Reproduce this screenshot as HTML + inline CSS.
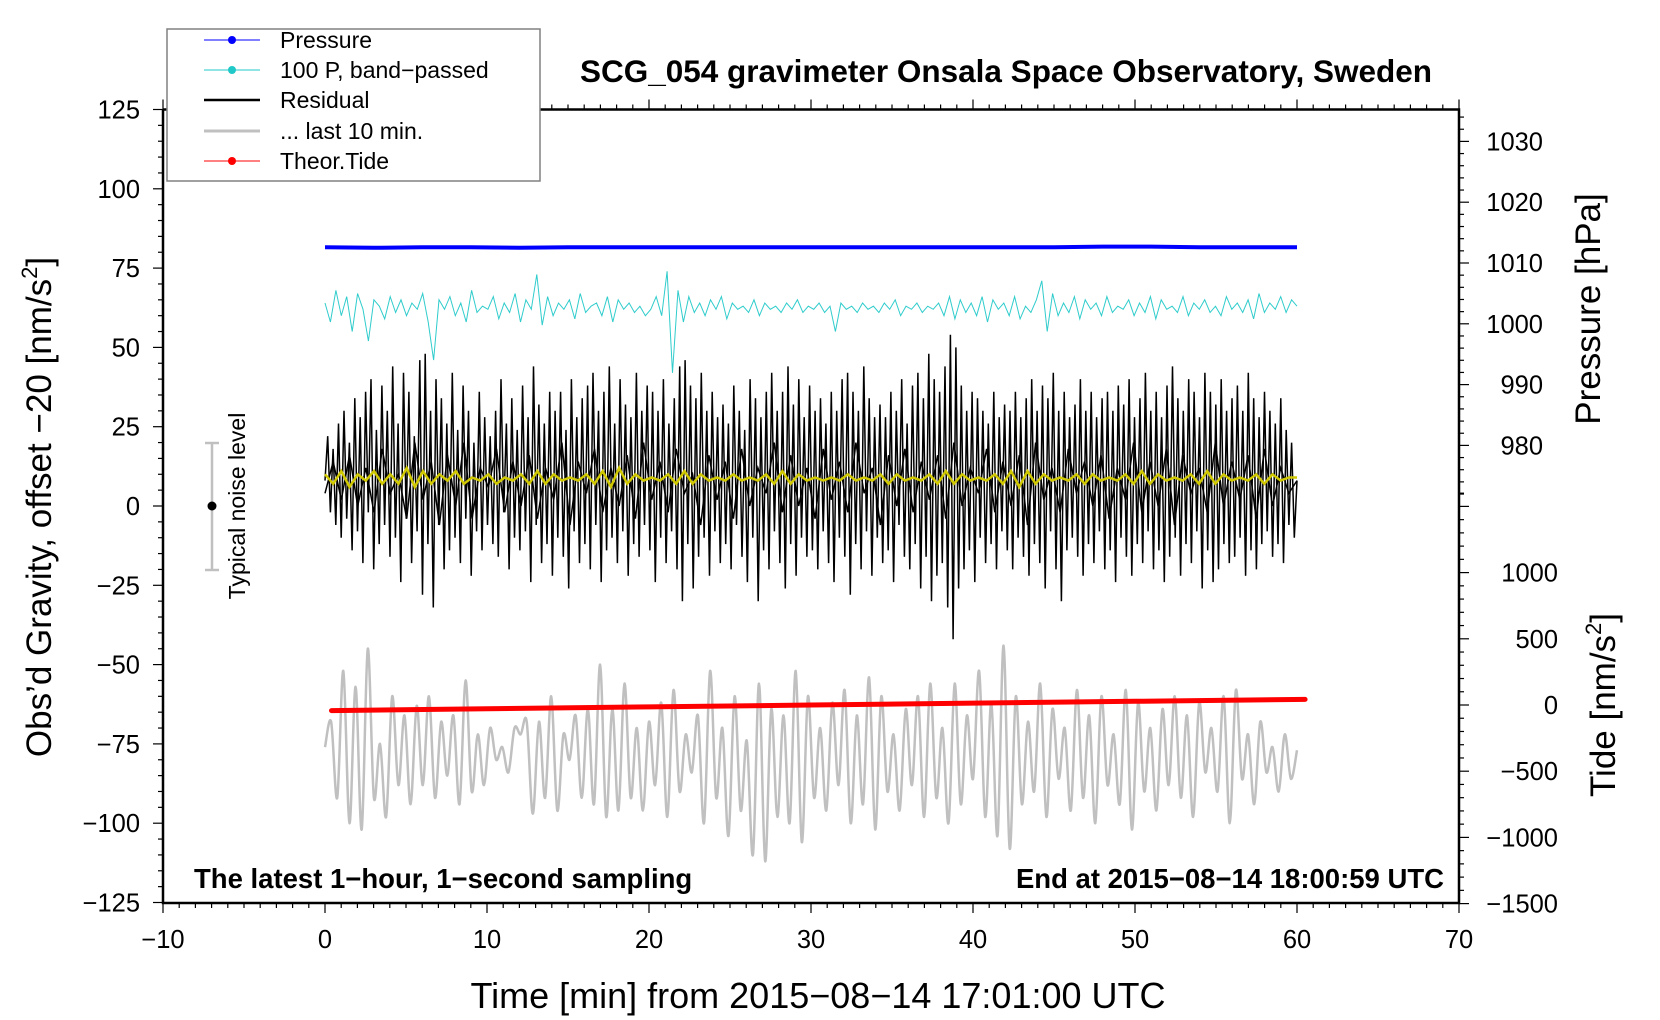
<!DOCTYPE html>
<html><head><meta charset="utf-8">
<style>
html,body{margin:0;padding:0;background:#fff;}
svg{display:block;font-family:"Liberation Sans",Arial,sans-serif;}
</style></head>
<body>
<svg id="chart" width="1660" height="1020" viewBox="0 0 1660 1020" xmlns="http://www.w3.org/2000/svg">
<rect x="0" y="0" width="1660" height="1020" fill="#fff"/>
<g id="series"></g>
<g id="axes"></g>
<text x="1006" y="82" font-size="31.5" font-weight="bold" text-anchor="middle">SCG_054 gravimeter Onsala Space Observatory, Sweden</text>
<text x="818" y="1008" font-size="36" text-anchor="middle">Time [min] from 2015−08−14 17:01:00 UTC</text>
<text transform="translate(51,507) rotate(-90)" font-size="35" text-anchor="middle">Obs’d Gravity, offset −20 [nm/s<tspan font-size="22" dy="-14">2</tspan><tspan dy="14">]</tspan></text>
<text transform="translate(1600,309) rotate(-90)" font-size="35" text-anchor="middle">Pressure [hPa]</text>
<text transform="translate(1615,705) rotate(-90)" font-size="35" text-anchor="middle">Tide [nm/s<tspan font-size="22" dy="-14">2</tspan><tspan dy="14">]</tspan></text>
<text x="194" y="888" font-size="27.5" font-weight="bold">The latest 1−hour, 1−second sampling</text>
<text x="1444" y="888" font-size="27.5" font-weight="bold" text-anchor="end">End at 2015−08−14 18:00:59 UTC</text>
<g>
<line x1="212" y1="443" x2="212" y2="570" stroke="#c0c0c0" stroke-width="2.5"/>
<line x1="205" y1="443" x2="219" y2="443" stroke="#c0c0c0" stroke-width="2.5"/>
<line x1="205" y1="570" x2="219" y2="570" stroke="#c0c0c0" stroke-width="2.5"/>
<circle cx="212" cy="506" r="4.5" fill="#000"/>
<text transform="translate(245,506) rotate(-90)" font-size="23" text-anchor="middle">Typical noise level</text>
</g>
<g>
<rect x="167" y="29" width="373" height="152" fill="#fff" stroke="#808080" stroke-width="1.5"/>
<g><line x1="204" y1="40" x2="260" y2="40" stroke="#0000ff" stroke-width="1"/><circle cx="232" cy="40" r="4" fill="#0000ff"/><text x="280" y="48" font-size="23">Pressure</text></g>
<g><line x1="204" y1="70" x2="260" y2="70" stroke="#20c8c8" stroke-width="1"/><circle cx="232" cy="70" r="4" fill="#20c8c8"/><text x="280" y="78" font-size="23">100 P, band−passed</text></g>
<g><line x1="204" y1="100" x2="260" y2="100" stroke="#000" stroke-width="2.5"/><text x="280" y="108" font-size="23">Residual</text></g>
<g><line x1="204" y1="131" x2="260" y2="131" stroke="#c0c0c0" stroke-width="3"/><text x="280" y="139" font-size="23">... last 10 min.</text></g>
<g><line x1="204" y1="161" x2="260" y2="161" stroke="#ff0000" stroke-width="1"/><circle cx="232" cy="161" r="4" fill="#ff0000"/><text x="280" y="169" font-size="23">Theor.Tide</text></g>
</g>
</svg>
<script>
const xTicks = [-10,0,10,20,30,40,50,60,70];
const yTicks = [125,100,75,50,25,0,-25,-50,-75,-100,-125];
const pTicks = [1030,1020,1010,1000,990,980];
const tideTicks = [1000,500,0,-500,-1000,-1500];
const pressure = [1012.6,1012.5,1012.6,1012.6,1012.5,1012.6,1012.6,1012.6,1012.6,1012.6,1012.6,1012.6,1012.6,1012.6,1012.6,1012.6,1012.7,1012.7,1012.6,1012.6,1012.6];
const bandPassed = [64,58,68,60,66,55,67,62,52,65,63,59,66,61,65,60,64,62,67,58,46,65,62,66,60,64,58,68,61,63,
62,66,59,64,61,67,58,65,62,73,57,66,60,64,62,65,59,67,61,63,64,60,66,58,65,62,64,61,63,60,
62,66,60,74,42,68,58,66,61,64,60,65,62,66,59,64,62,63,61,65,60,64,62,63,61,64,62,65,61,63,
62,64,61,63,55,64,62,63,61,64,62,63,61,64,62,65,60,63,62,64,61,63,62,64,60,66,59,65,61,64,
60,66,58,65,62,64,60,66,59,63,61,65,71,55,67,60,64,61,66,59,65,62,64,60,66,61,63,62,65,60,
64,61,66,59,65,62,63,61,66,60,64,62,65,61,63,60,66,62,64,61,65,59,67,61,64,62,66,61,65,63];
const residual = [8,22,-2,18,-6,26,-10,30,-4,20,-14,34,
-8,28,-18,36,-2,40,-20,24,-12,38,-6,30,
-16,44,-10,26,-24,42,-4,36,-18,22,-8,46,
-28,48,-12,30,-32,40,-6,34,-20,26,-14,42,
-10,24,-18,38,-4,30,-22,20,-8,36,-14,28,
-6,22,-12,30,-16,40,-2,26,-20,34,-10,24,
-14,38,-8,28,-24,44,-6,32,-18,26,-12,36,
-22,30,-10,36,-16,24,-26,40,-8,28,-18,34,
-12,38,-20,42,-6,30,-24,36,-14,44,-10,26,
-18,40,-8,32,-22,28,-12,42,-16,30,-6,38,
-14,36,-24,30,-10,40,-18,26,-8,34,-20,44,
-30,46,-12,38,-26,34,-16,42,-10,30,-22,36,
-8,28,-18,32,-12,26,-20,38,-6,30,-16,24,
-24,40,-10,34,-30,28,-14,36,-20,42,-8,30,
-18,36,-26,44,-12,32,-22,40,-10,28,-16,38,
-14,30,-20,34,-8,26,-18,36,-24,30,-10,40,
-16,42,-28,36,-12,30,-20,44,-8,34,-22,28,
-10,32,-18,28,-14,36,-24,30,-6,40,-16,26,
-20,38,-12,42,-26,34,-16,48,-30,40,-22,36,
-18,44,-32,54,-42,50,-26,38,-20,30,-14,36,
-24,34,-10,30,-18,26,-12,36,-20,28,-8,32,
-14,30,-20,36,-10,28,-16,34,-22,40,-12,30,
-18,38,-26,34,-8,42,-20,30,-30,36,-14,28,
-10,32,-16,40,-22,30,-12,36,-18,28,-8,34,
-20,36,-14,30,-24,38,-10,32,-16,40,-22,28,
-12,34,-18,42,-8,30,-20,36,-14,28,-24,38,
-16,44,-10,34,-22,30,-12,40,-18,36,-8,28,
-26,42,-14,36,-24,32,-20,40,-12,30,-18,34,
-16,38,-10,30,-22,42,-14,34,-20,28,-12,36,
-8,30,-16,26,-12,34,-18,24,-6,20,-10,8];
const residualCore = [4,14,2,16,0,12,-2,18,4,10,-4,20,2,14,-6,16,0,20,-4,12,6,18,-2,14,
0,16,-4,12,2,20,-6,14,4,18,-2,12,0,16,-4,20,2,14,-2,18,4,10,-6,16,
2,14,-4,18,0,12,4,20,-2,16,0,12,-4,18,2,14,-2,20,4,12,-6,16,0,18,
-2,14,2,16,-4,20,0,12,4,18,-2,14,0,16,-6,20,2,12,-2,18,4,14,0,16,
-4,12,2,20,-2,14,0,18,-6,16,4,12,-2,20,0,14,2,16,-4,18,0,12,4,8];
const smoothed = [10,7,11,6,10,8,11,7,10,7,12,6,11,7,10,8,11,7,9,8,
10,7,9,8,10,7,11,7,10,8,9,8,10,7,11,6,12,7,10,8,
9,8,10,7,11,7,10,8,9,8,10,8,9,8,10,7,11,7,10,8,
9,8,9,8,10,8,9,8,10,7,10,8,9,8,10,7,11,7,10,8,
9,8,10,7,11,6,11,7,10,8,9,8,10,7,10,8,9,8,10,7,
11,7,10,8,9,8,10,7,11,7,10,8,9,8,10,7,10,8,9,9];
const last10 = [-76,-68,-92,-52,-100,-57,-102,-45,-92,-75,-98,-60,-88,-66,-94,-63,-88,-60,-92,-68,
-85,-66,-94,-55,-90,-72,-88,-70,-80,-76,-84,-70,-72,-68,-97,-68,-92,-60,-96,-72,
-80,-66,-92,-64,-94,-50,-98,-64,-96,-56,-92,-70,-96,-68,-88,-62,-98,-58,-90,-72,
-84,-66,-100,-52,-92,-70,-104,-60,-96,-74,-110,-56,-112,-64,-98,-66,-100,-52,-106,-60,
-92,-70,-96,-62,-88,-58,-100,-66,-94,-54,-102,-60,-90,-72,-96,-64,-88,-60,-98,-56,
-92,-70,-100,-56,-94,-66,-86,-52,-98,-62,-104,-44,-108,-60,-94,-68,-90,-56,-98,-64,
-86,-70,-96,-58,-92,-66,-100,-60,-88,-72,-94,-58,-102,-62,-90,-70,-96,-64,-88,-60,
-92,-66,-98,-62,-84,-70,-90,-60,-100,-58,-86,-72,-94,-68,-84,-76,-90,-72,-86,-77];
const tideTimes = [0.4,10,20,30,40,50,60.5];
const tideValues = [-42,-28,-14,0,14,28,42];

const NS='http://www.w3.org/2000/svg';
const xs = t => 325 + t*16.2;
const ys = v => 506 - v*3.172;
const yp = p => 263 - (p-1010)*6.08;
const yt = g => 705 - g*0.1324;
const X0=163, X1=1459, Y0=109.5, Y1=903;
const series=document.getElementById('series');
const axes=document.getElementById('axes');
function mk(tag, attrs, parent){const e=document.createElementNS(NS,tag);for(const k in attrs)e.setAttribute(k,attrs[k]);parent.appendChild(e);return e;}
function linePts(arr, yf){const n=arr.length;return arr.map((v,i)=>xs(i/(n-1)*60).toFixed(1)+','+yf(v).toFixed(1)).join(' ');}

// last 10 min (Catmull-Rom through values)
(function(){
  const n=last10.length;const P=last10.map((v,i)=>[xs(i/(n-1)*60),ys(v)]);
  let d='M'+P[0][0].toFixed(1)+','+P[0][1].toFixed(1);
  for(let i=0;i<n-1;i++){
    const p0=P[Math.max(0,i-1)],p1=P[i],p2=P[i+1],p3=P[Math.min(n-1,i+2)];
    const c1=[p1[0]+(p2[0]-p0[0])/6,p1[1]+(p2[1]-p0[1])/6];
    const c2=[p2[0]-(p3[0]-p1[0])/6,p2[1]-(p3[1]-p1[1])/6];
    d+=' C'+c1[0].toFixed(1)+','+c1[1].toFixed(1)+' '+c2[0].toFixed(1)+','+c2[1].toFixed(1)+' '+p2[0].toFixed(1)+','+p2[1].toFixed(1);
  }
  const e=mk('path',{d:d,fill:'none',stroke:'#c0c0c0','stroke-width':2.5},series);
  
  
})();
// tide
(function(){
  const pts=tideTimes.map((t,i)=>xs(t).toFixed(1)+','+yt(tideValues[i]).toFixed(1)).join(' ');
  const e=mk('polyline',{points:pts,fill:'none',stroke:'#ff0000','stroke-width':5,'stroke-linecap':'round'},series);
  
  
})();
(function(){
  let e=mk('polyline',{points:linePts(residual,ys),fill:'none',stroke:'#000','stroke-width':1.5},series);
  
  
  e=mk('polyline',{points:linePts(residualCore,ys),fill:'none',stroke:'#000','stroke-width':1.5},series);
  
  
  e=mk('polyline',{points:linePts(smoothed,ys),fill:'none',stroke:'#d0c800','stroke-width':2.5},series);
  
  
  e=mk('polyline',{points:linePts(bandPassed,ys),fill:'none',stroke:'#30cccc','stroke-width':1},series);
  
  
  e=mk('polyline',{points:linePts(pressure,yp),fill:'none',stroke:'#0000ff','stroke-width':4},series);
  
  
})();

mk('path',{d:`M${X0},${Y0} L${X0},${Y1} L${X1},${Y1} L${X1},${Y0} L${X0},${Y0}`,fill:'none',stroke:'#000','stroke-width':2.5},axes);
for(let t=-10;t<=70;t++){
  const x=xs(t), maj=(t%10===0);
  mk('line',{x1:x,y1:Y1,x2:x,y2:Y1+(maj?10:5),stroke:'#000','stroke-width':1.2},axes);
  mk('line',{x1:x,y1:Y0,x2:x,y2:Y0-(maj?10:5),stroke:'#000','stroke-width':1.2},axes);
}
xTicks.forEach(t=>{
  const e=mk('text',{x:xs(t),y:948,'font-size':25.5,'text-anchor':'middle'},axes);
  e.textContent=String(t).replace('-','−');
  
  
});
for(let v=-125;v<=125;v+=5){
  const y=ys(v), maj=(v%25===0);
  mk('line',{x1:X0,y1:y,x2:X0-(maj?10:5),y2:y,stroke:'#000','stroke-width':1.2},axes);
}
yTicks.forEach(v=>{
  const e=mk('text',{x:140,y:ys(v)+9,'font-size':25.5,'text-anchor':'end'},axes);
  e.textContent=String(v).replace('-','−');
  
  
});
for(let p=972;p<=1034;p+=2){
  const y=yp(p), maj=(p%10===0);
  mk('line',{x1:X1,y1:y,x2:X1+(maj?10:5),y2:y,stroke:'#000','stroke-width':1.2},axes);
}
pTicks.forEach(p=>{
  const e=mk('text',{x:1543,y:yp(p)+9,'font-size':25.5,'text-anchor':'end'},axes);
  e.textContent=String(p);
  
  
});
for(let g=-1500;g<=1600;g+=100){
  const y=yt(g), maj=(g%500===0);
  mk('line',{x1:X1,y1:y,x2:X1+(maj?10:5),y2:y,stroke:'#000','stroke-width':1.2},axes);
}
tideTicks.forEach(g=>{
  const e=mk('text',{x:1558,y:yt(g)+9,'font-size':25.5,'text-anchor':'end'},axes);
  e.textContent=String(g).replace('-','−');
  
  
});
</script>
</body></html>
